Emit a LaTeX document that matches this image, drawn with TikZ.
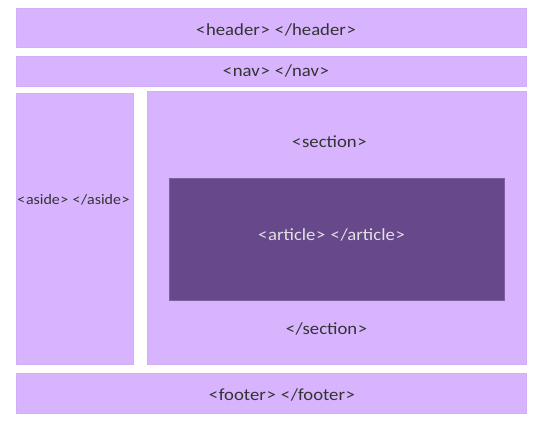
\documentclass[tikz,border=0pt]{standalone}
\usepackage{fontspec}
\setmainfont{Carlito}[FakeStretch=1.1]
\definecolor{lilac}{HTML}{D8B4FE}
\definecolor{lilacedge}{HTML}{D2AEF8}
\definecolor{plum}{HTML}{67488B}
\definecolor{plumedge}{HTML}{7E60A2}
\definecolor{ink}{HTML}{333333}
\definecolor{paleink}{HTML}{E2E2E2}
% angle brackets with a little side bearing
\newcommand{\tagl}{<\kern0.04em}
\newcommand{\tagr}{\kern0.04em>}
\newcommand{\tagpair}[1]{\tagl#1\tagr\kern0.3em\tagl/#1\tagr}
\begin{document}
\begin{tikzpicture}[x=1pt,y=-1pt,
  region/.style={fill=lilac,draw=lilacedge,line width=0.6pt,anchor=north west,inner sep=0pt},
  inner/.style={fill=plum,draw=plumedge,line width=1pt,anchor=north west,inner sep=0pt},
  label/.style={text=ink,inner sep=0pt,font=\fontsize{17}{20}\selectfont},
  palelabel/.style={label,text=paleink}]
\useasboundingbox (0,0) rectangle (538,427);
% page regions
\node[region,minimum width=510pt,minimum height=39pt] (header) at (16,8) {};
\node[region,minimum width=510pt,minimum height=30pt] (nav) at (16,56) {};
\node[region,minimum width=117pt,minimum height=271pt] (aside) at (16,93) {};
\node[region,minimum width=379pt,minimum height=273pt] (section) at (147,91) {};
\node[region,minimum width=510pt,minimum height=40pt] (footer) at (16,373) {};
% nested article
\node[inner,minimum width=335pt,minimum height=122pt] (article) at (169,178) {};
% tag labels
\node[label] (headertext) at (276,30) {\tagpair{header}};
\node[label,font=\fontsize{17}{20}\selectfont] (navtext) at (276,71) {\tagpair{nav}};
\node[label,font=\fontsize{14.5}{17}\selectfont] (asidetext) at (73.5,200) {\tagpair{aside}};
\node[label] (secopen) at (329.5,142) {\tagl section\tagr};
\node[palelabel] (articletext) at (331.5,235) {\tagpair{article}};
\node[label] (secclose) at (326.5,329) {\tagl/section\tagr};
\node[label] (footertext) at (282,395) {\tagpair{footer}};
\end{tikzpicture}
\end{document}
